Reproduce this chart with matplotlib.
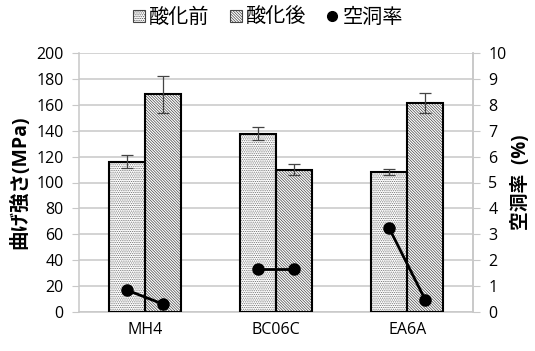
import matplotlib
matplotlib.use("Agg")
import matplotlib.pyplot as plt
import numpy as np
from matplotlib.lines import Line2D
from matplotlib.patches import Patch

plt.rcParams['font.family'] = ['Open Sans', 'Noto Sans CJK JP', 'DejaVu Sans']
plt.rcParams['hatch.linewidth'] = 0.5

categories = ["MH4", "BC06C", "EA6A"]
strength_before = [116, 137.5, 108]
strength_before_err = [5, 5, 2.5]
strength_after = [168, 110, 161.5]
strength_after_err = [14, 4, 7.5]
void_before = [0.85, 1.67, 3.23]
void_after = [0.31, 1.67, 0.46]

DOTS = '.' * 9
DIAG = '\\' * 12

fig = plt.figure(figsize=(5.35, 3.51), dpi=100)
ax = fig.add_axes([79/535, 1 - 312/351, (473-79)/535, (312-53)/351])

x = np.arange(len(categories))
w = 0.275
xb = x - w/2
xa = x + w/2

# hatch fill
ax.bar(xb, strength_before, w, color='white', edgecolor='#666666', hatch=DOTS, linewidth=0, zorder=2)
ax.bar(xa, strength_after, w, color='white', edgecolor='#444444', hatch=DIAG, linewidth=0, zorder=2)
# outlines
ax.bar(xb, strength_before, w, fill=False, edgecolor='black', linewidth=1.5, zorder=3)
ax.bar(xa, strength_after, w, fill=False, edgecolor='black', linewidth=1.5, zorder=3)

ax.errorbar(xb, strength_before, yerr=strength_before_err, fmt='none', ecolor='#444444',
            elinewidth=0.9, capsize=4, capthick=0.9, zorder=4)
ax.errorbar(xa, strength_after, yerr=strength_after_err, fmt='none', ecolor='#444444',
            elinewidth=0.9, capsize=4, capthick=0.9, zorder=4)

ax.set_xlim(-0.5, 2.5)
ax.set_ylim(0, 200)
ax.set_yticks(np.arange(0, 201, 20))
ax.set_xticks(x)
ax.set_xticklabels(categories, fontsize=11.5)
ax.tick_params(axis='x', length=0, pad=7)
ax.tick_params(axis='y', labelsize=11.5, length=5, color='#c8c8c8', pad=6)
ax.yaxis.grid(True, color='#c8c8c8', linewidth=1.1, zorder=0)
ax.set_axisbelow(True)
ax.spines['top'].set_visible(False)
for s in ['left', 'right', 'bottom']:
    ax.spines[s].set_color('#c8c8c8')
    ax.spines[s].set_linewidth(1.1)
ax.set_ylabel('曲げ強さ(MPa)', fontsize=14, fontweight='bold', labelpad=4)

ax2 = ax.twinx()
ax2.set_ylim(0, 10)
ax2.set_yticks(np.arange(0, 11, 1))
ax2.tick_params(axis='y', labelsize=11.5, length=5, color='#c8c8c8', pad=6)
for s in ['top', 'left', 'bottom']:
    ax2.spines[s].set_visible(False)
ax2.spines['right'].set_color('#c8c8c8')
ax2.spines['right'].set_linewidth(1.1)
for i in range(len(categories)):
    ax2.plot([xb[i], xa[i]], [void_before[i], void_after[i]], color='black',
             linewidth=2, marker='o', markersize=8, zorder=5)
ax2.set_ylabel('空洞率  (%)', fontsize=13.5, fontweight='bold', labelpad=3)

handles = [
    Patch(facecolor='white', edgecolor='#444444', hatch=DOTS, linewidth=0.8),
    Patch(facecolor='white', edgecolor='#444444', hatch=DIAG, linewidth=0.8),
    Line2D([], [], color='black', marker='o', linestyle='none', markersize=7),
]
fig.legend(handles, ['酸化前', '酸化後', '空洞率'], loc='center', bbox_to_anchor=(268/535, 1 - 18/351),
           ncol=3, frameon=False, fontsize=14.5, handlelength=0.6, handleheight=0.6,
           handletextpad=0.2, columnspacing=1.0)

fig.savefig('out.png', dpi=100)
